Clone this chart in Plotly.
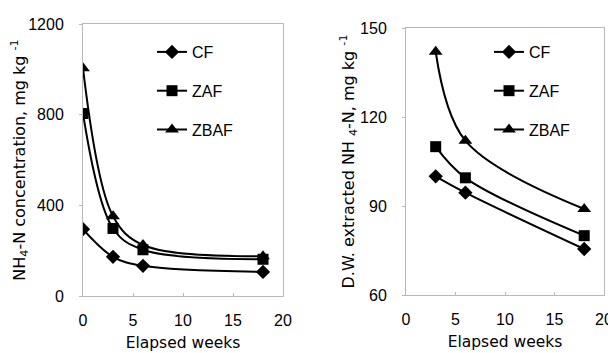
import plotly.graph_objects as go

weeks_left = [0, 3, 6, 18]
cf_left = [295, 173, 133, 106]
zaf_left = [805, 298, 204, 162]
zbaf_left = [1005, 352, 225, 175]

weeks_right = [3, 6, 18]
cf_right = [100, 94.5, 75.5]
zaf_right = [110, 99.5, 80]
zbaf_right = [142, 112, 89]

series_names = ["CF", "ZAF", "ZBAF"]
symbols = ["diamond", "square", "triangle-up"]
sizes = [11, 11, 12]

# page has an 8px body margin; figure coords = page coords - 8
OFF = 8
W, H = 616 - OFF, 353 - OFF
FONT = "Liberation Sans, Arial, sans-serif"
TFONT = "DejaVu Sans, Liberation Sans, sans-serif"
FRAME = "#b8b8b8"

fig = go.Figure()

left_data = [cf_left, zaf_left, zbaf_left]
right_data = [cf_right, zaf_right, zbaf_right]

for i, name in enumerate(series_names):
    fig.add_trace(go.Scatter(
        x=weeks_left, y=left_data[i], name=name, mode="lines+markers",
        line=dict(color="black", width=2, shape="spline", smoothing=1),
        marker=dict(symbol=symbols[i], size=sizes[i], color="black"),
        xaxis="x", yaxis="y", legend="legend", legendgroup="L" + name,
    ))
for i, name in enumerate(series_names):
    fig.add_trace(go.Scatter(
        x=weeks_right, y=right_data[i], name=name, mode="lines+markers",
        line=dict(color="black", width=2, shape="spline", smoothing=1),
        marker=dict(symbol=symbols[i], size=sizes[i], color="black"),
        xaxis="x2", yaxis="y2", legend="legend2", legendgroup="R" + name,
    ))

def px_x(p):
    return (p - OFF) / W

def px_y(p):
    return (H - (p - OFF)) / H

axis_common = dict(
    showline=True, linecolor=FRAME, linewidth=1, mirror=True,
    showgrid=False, zeroline=False, ticks="outside", ticklen=3,
    tickcolor=FRAME, tickfont=dict(family=FONT, size=16, color="black"),
    automargin=False,
)

fig.update_layout(
    width=W, height=H,
    margin=dict(l=0, r=0, t=0, b=0),
    paper_bgcolor="white", plot_bgcolor="white",
    font=dict(family=FONT, size=16, color="black"),
    xaxis=dict(domain=[px_x(83), px_x(283)], range=[0, 20], tickvals=[0, 5, 10, 15, 20],
               ticklabelstandoff=10,
               title=dict(text="Elapsed weeks", standoff=8, font=dict(family=TFONT, size=15.5)),
               anchor="y", **{**axis_common, "ticks": "inside"}),
    yaxis=dict(domain=[px_y(296), px_y(24)], range=[0, 1200], tickvals=[0, 400, 800, 1200],
               ticklabelstandoff=12,
               title=dict(text="NH<sub>4</sub>-N concentration, mg kg <sup>-1</sup>", standoff=0,
                          font=dict(family=TFONT, size=16)),
               anchor="x", **axis_common),
    xaxis2=dict(domain=[px_x(406), px_x(604)], range=[0, 20], tickvals=[0, 5, 10, 15, 20],
                ticklabelstandoff=10,
                title=dict(text="Elapsed weeks", standoff=8, font=dict(family=TFONT, size=15.5)),
                anchor="y2", **{**axis_common, "ticks": "inside"}),
    yaxis2=dict(domain=[px_y(295), px_y(28)], range=[60, 150], tickvals=[60, 90, 120, 150],
                ticklabelstandoff=12,
                title=dict(text="D.W. extracted NH <sub>4</sub>-N, mg kg <sup>-1</sup>", standoff=1,
                           font=dict(family=TFONT, size=16)),
                anchor="x2", **axis_common),
    legend=dict(x=px_x(152), y=px_y(35), xanchor="left", yanchor="top",
                bgcolor="rgba(0,0,0,0)", font=dict(family=FONT, size=16),
                tracegroupgap=15),
    legend2=dict(x=px_x(489), y=px_y(35), xanchor="left", yanchor="top",
                 bgcolor="rgba(0,0,0,0)", font=dict(family=FONT, size=16),
                 tracegroupgap=15),
    showlegend=True,
)

fig.write_html("out.html")
